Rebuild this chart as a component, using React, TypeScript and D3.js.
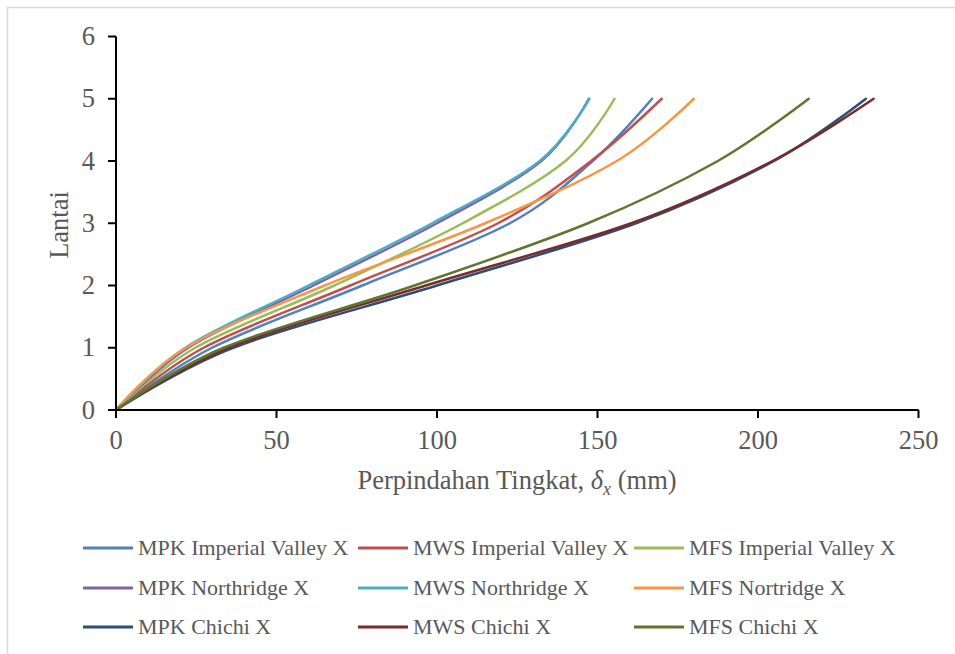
import React from "react";
import * as d3 from "d3";

const floors = [0, 1, 2, 3, 4, 5];
const seriesNames = [
  "MPK Imperial Valley X",
  "MWS Imperial Valley X",
  "MFS Imperial Valley X",
  "MPK Northridge X",
  "MWS Northridge X",
  "MFS Nortridge X",
  "MPK Chichi X",
  "MWS Chichi X",
  "MFS Chichi X",
];
const mpkImperial = [0, 29.9, 76.7, 122.7, 148.5, 167];
const mwsImperial = [0, 27.3, 73, 119, 148, 170];
const mfsImperial = [0, 24.7, 68, 108, 140, 155.3];
const mpkNorthridge = [0, 22.5, 61.5, 100, 132.5, 147.3];
const mwsNorthridge = [0, 21.6, 60, 98.5, 132, 147.5];
const mfsNortridge = [0, 21.8, 65, 115, 156, 180];
const mpkChichi = [0, 36.5, 100, 162, 205, 233.6];
const mwsChichi = [0, 35, 96.5, 160.5, 204.5, 236];
const mfsChichi = [0, 33.5, 93, 147, 187.5, 215.8];
const seriesValues = [
  mpkImperial, mwsImperial, mfsImperial,
  mpkNorthridge, mwsNorthridge, mfsNortridge,
  mpkChichi, mwsChichi, mfsChichi,
];
const colors = [
  "#4F81BD", "#C0504D", "#9BBB59",
  "#8064A2", "#4BACC6", "#F79646",
  "#2C4D75", "#772C2A", "#5F7530",
];
const xTicks = [0, 50, 100, 150, 200, 250];
const yTicks = [0, 1, 2, 3, 4, 5, 6];

export default function App() {
  const W = 955, H = 654;
  const x = d3.scaleLinear().domain([0, 250]).range([116, 918.5]);
  const y = d3.scaleLinear().domain([0, 6]).range([410, 36.5]);
  const line = d3
    .line<number>()
    .x((d) => x(d))
    .y((_, i) => y(floors[i]))
    .curve(d3.curveCardinal.tension(0));
  const font = '"Liberation Serif", "Times New Roman", Times, serif';
  const textCol = "#595959";
  const legX = [83, 358, 634];
  const legY = [548, 588, 627];
  const axFs = 26.5;

  return (
    <svg
      width={W}
      height={H}
      style={{ position: "absolute", left: 0, top: 0, fontFamily: font }}
    >
      <rect x={0} y={0} width={W} height={H} fill="#fff" />
      <rect x={7.5} y={7.5} width={W + 10} height={H + 10} fill="none" stroke="#d9d9d9" strokeWidth={1.5} />
      {seriesValues.map((vals, si) => (
        <path
          key={si}
          d={line(vals) || ""}
          fill="none"
          stroke={colors[si]}
          strokeWidth={2.5}
          strokeLinecap="round"
        />
      ))}
      <line x1={x(0)} x2={x(250)} y1={y(0)} y2={y(0)} stroke="#000" strokeWidth={2} />
      <line x1={x(0)} x2={x(0)} y1={y(0)} y2={y(6)} stroke="#000" strokeWidth={2} />
      {xTicks.map((t) => (
        <g key={"x" + t}>
          <line x1={x(t)} x2={x(t)} y1={y(0)} y2={y(0) + 8} stroke="#000" strokeWidth={2} />
          <text x={x(t)} y={449} textAnchor="middle" fontSize={axFs} fill={textCol} style={{ fontFamily: font }}>
            {t}
          </text>
        </g>
      ))}
      {yTicks.map((t) => (
        <g key={"y" + t}>
          <line x1={x(0) - 8} x2={x(0)} y1={y(t)} y2={y(t)} stroke="#000" strokeWidth={2} />
          <text x={95} y={y(t) + 8.5} textAnchor="end" fontSize={axFs} fill={textCol} style={{ fontFamily: font }}>
            {t}
          </text>
        </g>
      ))}
      <text x={517} y={489} textAnchor="middle" fontSize={axFs} fill={textCol} style={{ fontFamily: font }}>
        Perpindahan Tingkat,{" "}
        <tspan fontStyle="italic">δ</tspan>
        <tspan fontStyle="italic" fontSize={18} dy={6}>x</tspan>
        <tspan dy={-6}> (mm)</tspan>
      </text>
      <text
        transform={`translate(68,225) rotate(-90)`}
        textAnchor="middle"
        fontSize={axFs}
        fill={textCol}
        style={{ fontFamily: font }}
      >
        Lantai
      </text>
      {seriesNames.map((name, i) => {
        const cx = legX[i % 3];
        const cy = legY[Math.floor(i / 3)];
        return (
          <g key={"l" + i}>
            <line x1={cx} x2={cx + 50} y1={cy} y2={cy} stroke={colors[i]} strokeWidth={3} />
            <text x={cx + 55} y={cy + 7} fontSize={22} fill={textCol} style={{ fontFamily: font }}>
              {name}
            </text>
          </g>
        );
      })}
    </svg>
  );
}
